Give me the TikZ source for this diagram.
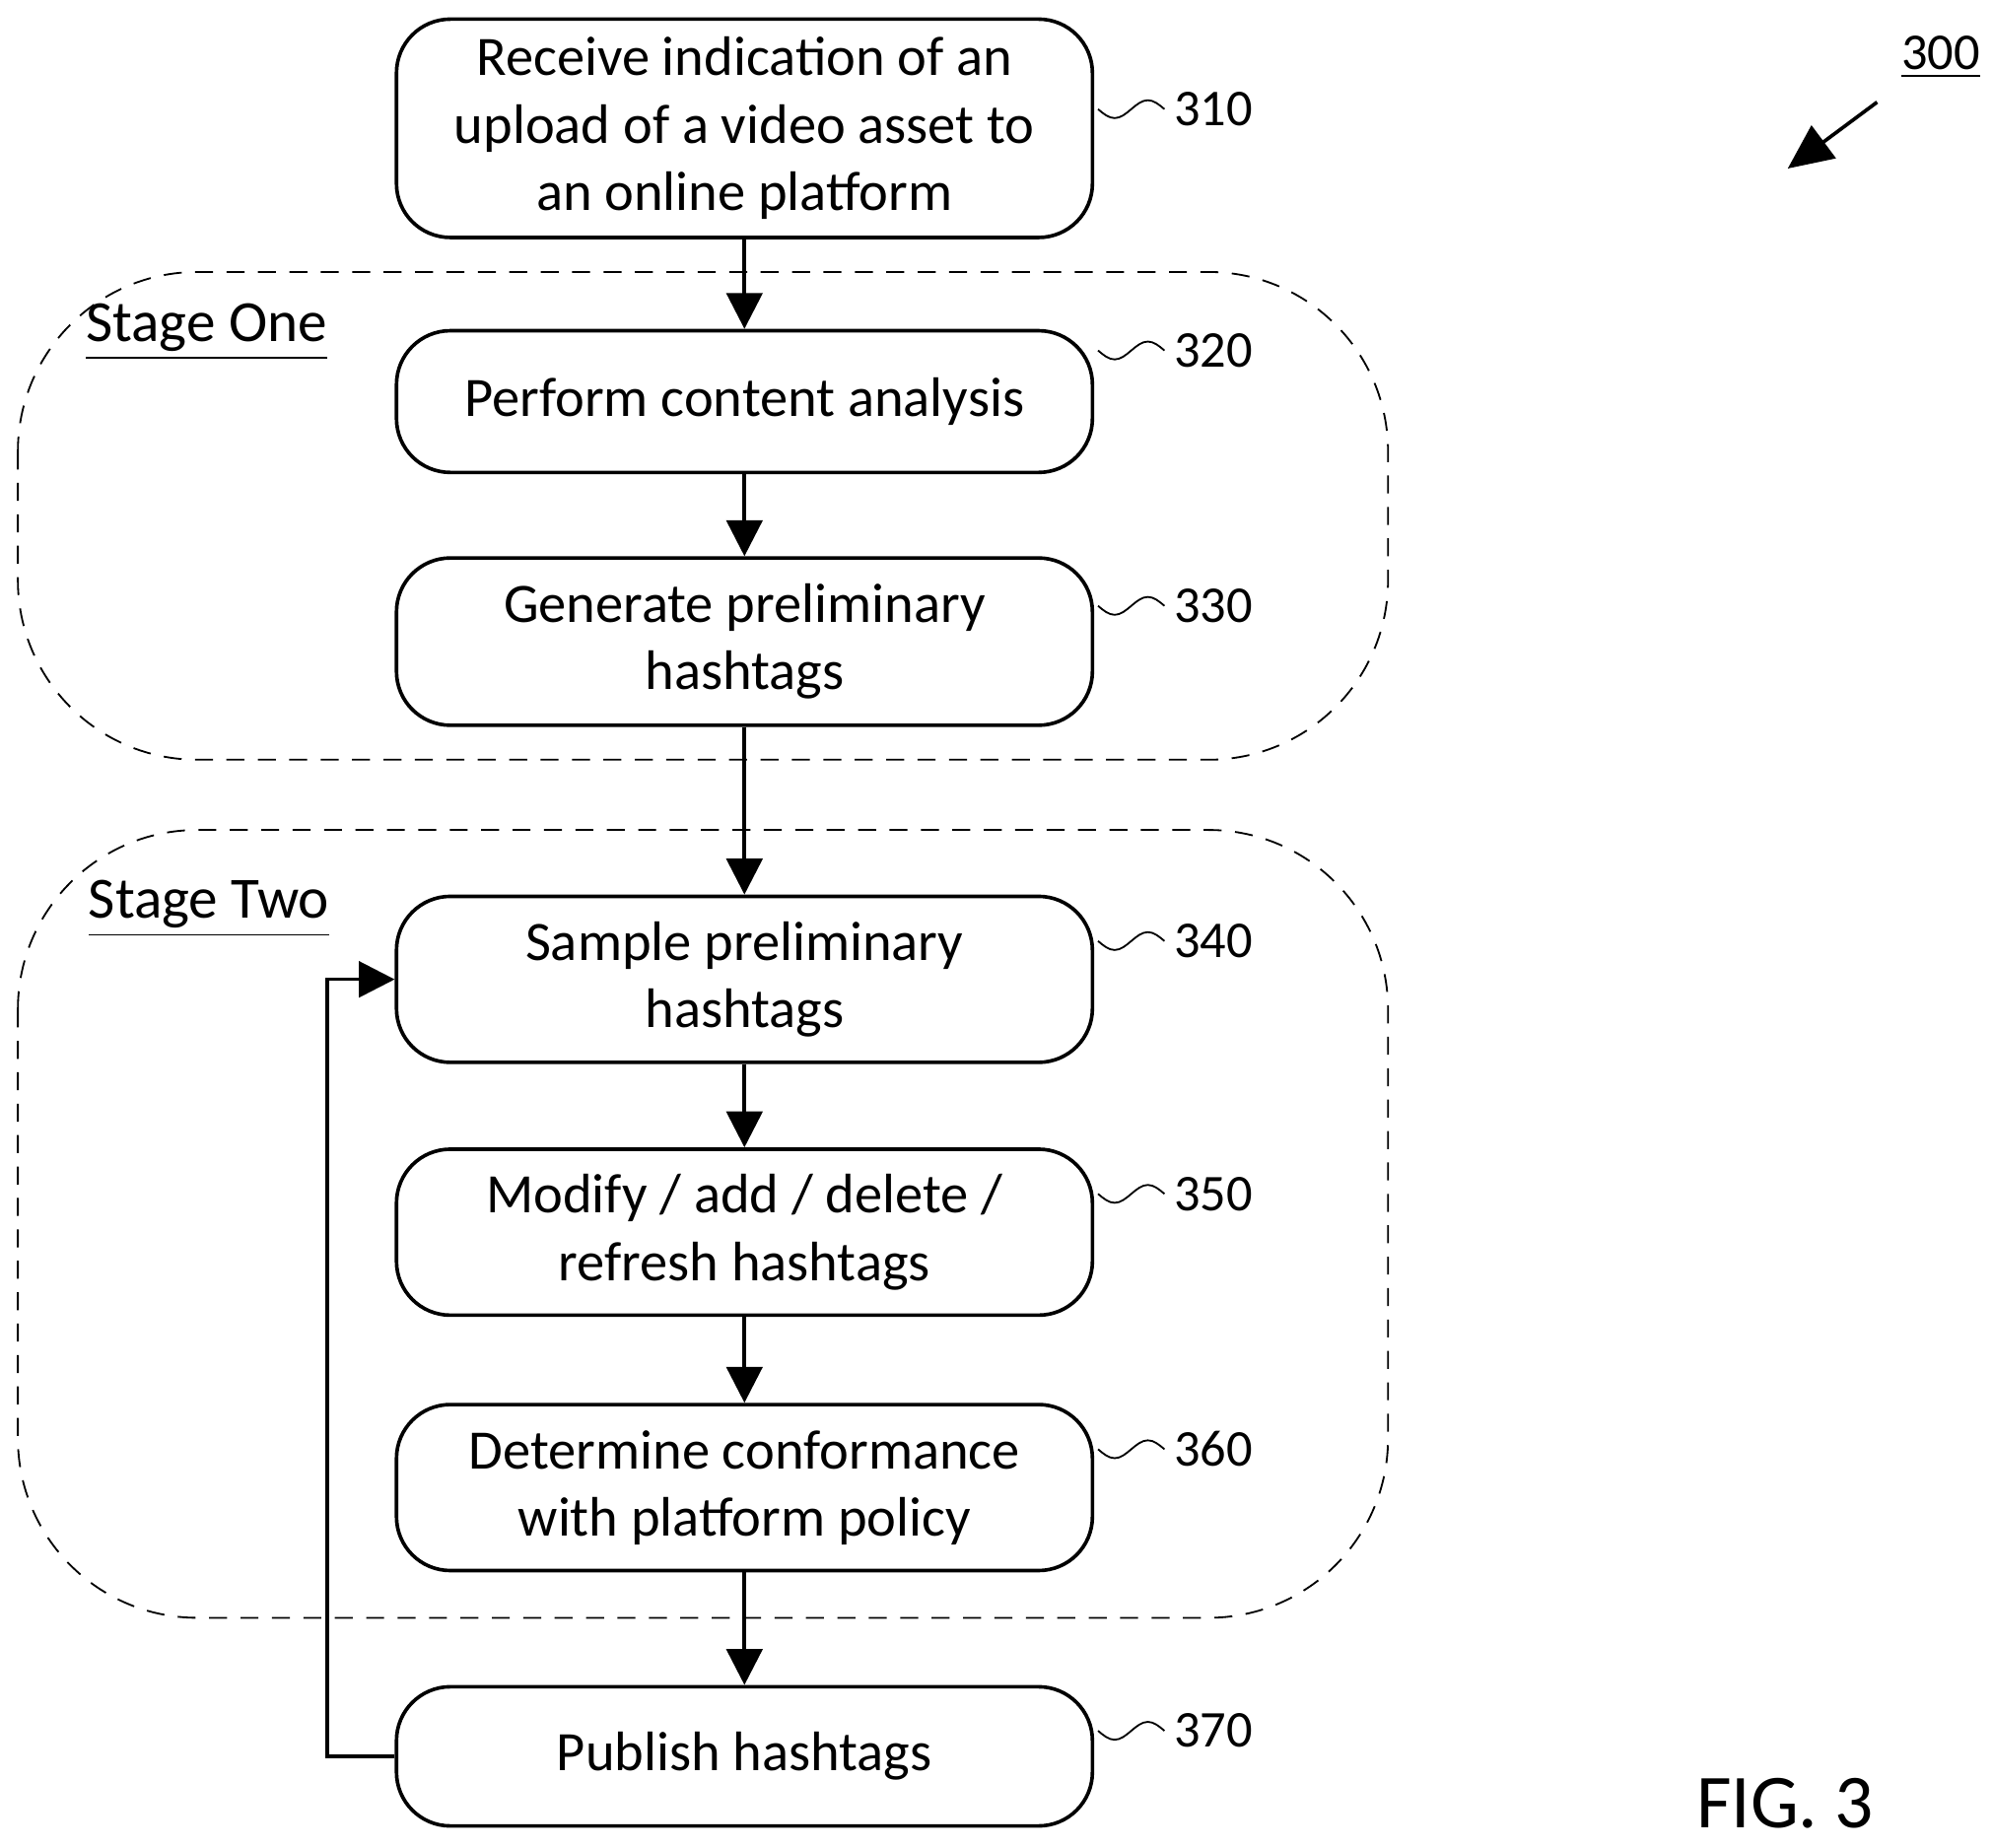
\documentclass[tikz,border=0pt]{standalone}
\usepackage{fontspec}
\setmainfont{Carlito}
\usetikzlibrary{arrows.meta,positioning}
\begin{document}
\begin{tikzpicture}[
    box/.style={draw,thick,rounded corners=12pt,minimum width=5.45cm,align=center,
      font=\fontsize{12.4}{15}\selectfont,inner sep=4pt},
    flow/.style={thick,-{Triangle[length=8pt,width=8pt]}},
    stage/.style={draw,dashed,dash pattern=on 4pt off 3pt,rounded corners=40pt},
    reflabel/.style={font=\fontsize{11.5}{13}\selectfont}]
  \useasboundingbox (0,0) rectangle (15.6,-14.47);
  % Stage frames
  \draw[stage] (0.14,-2.13) rectangle (10.87,-5.95);
  \draw[stage] (0.14,-6.5) rectangle (10.87,-12.67);
  \node[font=\fontsize{13}{15}\selectfont,anchor=west] (one) at (0.55,-2.6) {\underline{Stage One}};
  \node[font=\fontsize{13}{15}\selectfont,anchor=west] (two) at (0.57,-7.12) {\underline{Stage Two}};
  % Steps
  \node[box,minimum height=1.71cm] (s310) at (5.83,-1.005) {Receive indication of an\\upload of a video asset to\\an online platform};
  \node[box,minimum height=1.11cm] (s320) at (5.83,-3.145) {Perform content analysis};
  \node[box,minimum height=1.31cm] (s330) at (5.83,-5.025) {Generate preliminary\\hashtags};
  \node[box,minimum height=1.30cm] (s340) at (5.83,-7.67) {Sample preliminary\\hashtags};
  \node[box,minimum height=1.30cm] (s350) at (5.83,-9.65) {Modify / add / delete /\\refresh hashtags};
  \node[box,minimum height=1.30cm] (s360) at (5.83,-11.65) {Determine conformance\\with platform policy};
  \node[box,minimum height=1.09cm] (s370) at (5.83,-13.755) {Publish hashtags};
  % Reference numbers
  \foreach \n/\t/\dy in {s310/310/0.15,s320/320/0.4,s330/330/0.28,s340/340/0.3,s350/350/0.3,s360/360/0.3,s370/370/0.2}
    \draw ([shift={(0.03,\dy)}]\n.east) sin ++(0.13,-0.07) cos ++(0.13,0.07) sin ++(0.13,0.07) cos ++(0.13,-0.07)
      node[reflabel,right,inner sep=2pt] {\t};
  % Connectors
  \foreach \a/\b in {s310/s320,s320/s330,s330/s340,s340/s350,s350/s360,s360/s370}
    \draw[flow] (\a) -- (\b);
  \draw[flow] (s370.west) -- ++(-0.53,0) |- (s340.west);
  % Figure labels
  \node[reflabel] (fig) at (15.2,-0.45) {\underline{300}};
  \coordinate (tip) at (14.0,-1.32);
  \draw[thick,-{Triangle[length=10pt,width=9pt]}] (14.7,-0.8) -- (tip);
  \node[font=\fontsize{17}{20}\selectfont] (fignum) at (13.98,-14.12) {FIG. 3};
\end{tikzpicture}
\end{document}
